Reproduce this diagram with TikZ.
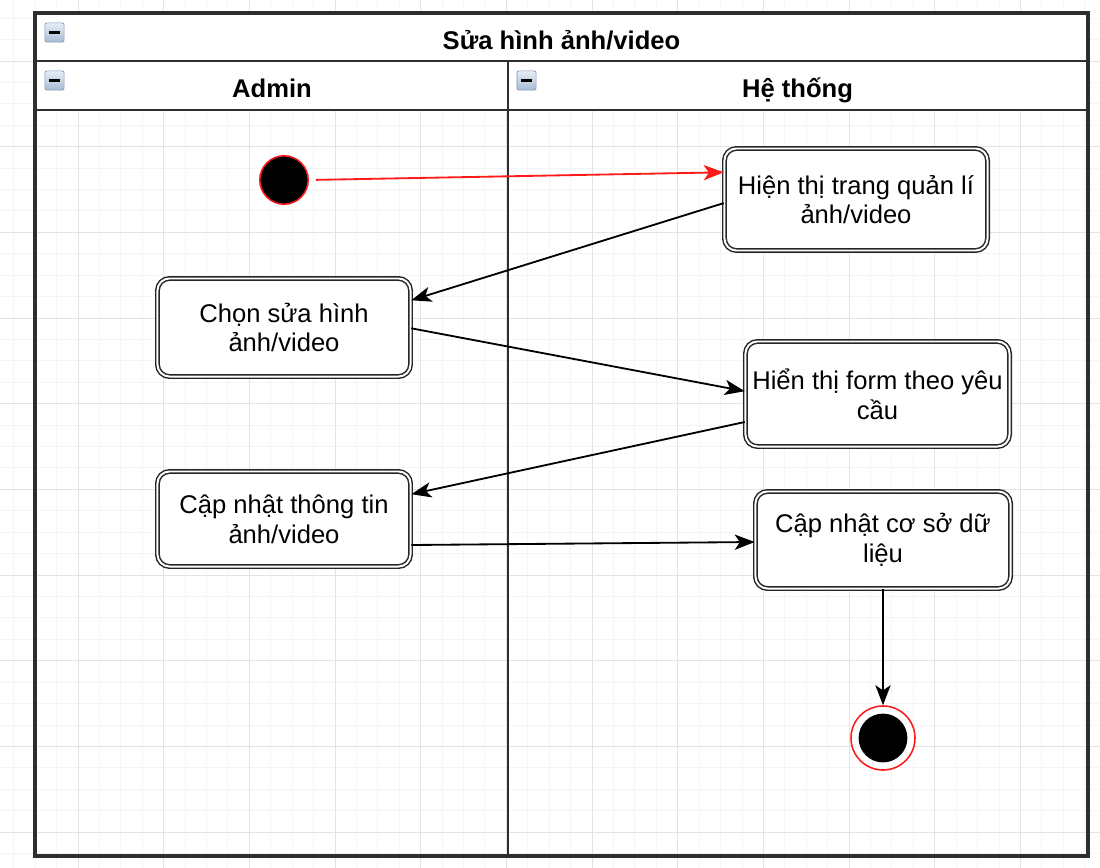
\documentclass[tikz,border=0pt]{standalone}
\usepackage{fontspec}
\setmainfont{Liberation Sans}
\usepackage{xcolor}
\usepackage{tikz}
\usetikzlibrary{arrows.meta}

\definecolor{gridminor}{HTML}{F5F5F5}
\definecolor{gridmajor}{HTML}{E3E3E3}
\definecolor{poolline}{HTML}{2E2E2E}
\definecolor{flowred}{HTML}{FF1A1A}
\definecolor{tgltop}{HTML}{E6EDF6}
\definecolor{tglbot}{HTML}{A7BAD3}
\definecolor{tglline}{HTML}{7F97B6}

\newcommand{\actfont}{\fontsize{18.2}{21.2}\selectfont}
\newcommand{\headfont}{\fontsize{18.2}{20.6}\selectfont\bfseries}

\tikzset{
  act/.style={draw=black!85, double=white, double distance=1.4pt, line width=1.05pt,
    fill=white, rounded corners=0.3cm, align=center, inner sep=0pt, font=\actfont},
  band/.style={draw=poolline, line width=1.5pt, fill=white, font=\headfont, inner sep=0pt,
    text height=16.5pt, text depth=0pt},
  lane/.style={draw=poolline, line width=1.5pt, inner sep=0pt},
  tgl/.style={draw=tglline, line width=0.5pt, top color=tgltop, bottom color=tglbot,
    rounded corners=1.5pt, minimum size=0.48cm, inner sep=0pt,
    path picture={\draw[black, line width=1.6pt]
      ([xshift=-0.13cm]path picture bounding box.center) --
      ([xshift=0.13cm]path picture bounding box.center);}},
  flow/.style={->, >={Stealth[length=0.5cm, width=0.38cm, inset=0.13cm]}, line width=1.3pt}
}

\begin{document}
\begin{tikzpicture}[x=0.025cm, y=-0.025cm]
    \useasboundingbox (0,0) rectangle (1100,868);
    \fill[white] (0,0) rectangle (1100,868);

    % background grid
    \foreach \k in {-3,...,47}
      \draw[gridminor, line width=0.7pt] ({78+21.42*\k},0) -- ({78+21.42*\k},868);
    \foreach \k in {-2,...,37}
      \draw[gridminor, line width=0.7pt] (0,{61+21.42*\k}) -- (1100,{61+21.42*\k});
    \foreach \k in {0,...,11}
      \draw[gridmajor, line width=0.7pt] ({78+85.67*\k},0) -- ({78+85.67*\k},868);
    \foreach \k in {0,...,9}
      \draw[gridmajor, line width=0.7pt] (0,{61+85.67*\k}) -- (1100,{61+85.67*\k});

    % swimlanes
    \node[lane, minimum width=11.8cm, minimum height=18.625cm] (adminlane) at (272,482.5) {};
    \node[lane, minimum width=14.475cm, minimum height=18.625cm] (syslane) at (797.5,482.5) {};
    \node[band, minimum width=26.275cm, minimum height=1.175cm] (title) at (561.5,37.5) {Sửa hình ảnh/video};
    \node[band, minimum width=11.8cm, minimum height=1.225cm] (admin) at (272,85.5) {Admin};
    \node[band, minimum width=14.475cm, minimum height=1.225cm] (sys) at (797.5,85.5) {Hệ thống};
    \draw[poolline, line width=2.2pt] (title.north west) rectangle (adminlane.south -| syslane.east);

    \node[tgl] (tgltitle) at (54.5,32.5) {};
    \node[tgl] (tgladmin) at (54.5,80.5) {};
    \node[tgl] (tglsys) at (526.5,80.5) {};

    % activities
    \node[circle, draw=flowred, line width=1.1pt, fill=black, minimum size=1.21cm, inner sep=0pt] (start) at (284,180) {};
    \node[act, minimum width=6.575cm, minimum height=2.55cm] (hienthi) at (856,199.5) {Hiện thị trang quản lí\\ảnh/video};
    \node[act, minimum width=6.325cm, minimum height=2.45cm] (chon) at (284,327.5) {Chọn sửa hình\\ảnh/video};
    \node[act, minimum width=6.6cm, minimum height=2.625cm] (form) at (877.5,394) {Hiển thị form theo yêu\\cầu};
    \node[act, minimum width=6.325cm, minimum height=2.375cm] (capnhat) at (284,519) {Cập nhật thông tin\\ảnh/video};
    \node[act, minimum width=6.375cm, minimum height=2.425cm] (csdl) at (883,540) {Cập nhật cơ sở dữ\\liệu};
    \node[circle, draw=flowred, line width=1.1pt, fill=white, minimum size=1.6cm, inner sep=0pt] (stop) at (883,738) {};
    \node[circle, fill=black, minimum size=1.22cm, inner sep=0pt] (stopdot) at (stop) {};

    \draw[flow, flowred, shorten <=0.17cm] (start.east) -- ([yshift=0.68cm]hienthi.west);
    \draw[flow] ([yshift=-0.09cm]hienthi.west) -- ([yshift=0.68cm]chon.east);
    \draw[flow] ([yshift=-0.02cm]chon.east) -- ([yshift=0.07cm]form.west);
    \draw[flow] ([yshift=-0.7cm]form.west) -- ([yshift=0.62cm]capnhat.east);
    \draw[flow] ([yshift=-0.65cm]capnhat.east) -- ([yshift=-0.05cm]csdl.west);
    \draw[flow] (csdl.south) -- (stop.north);
  \end{tikzpicture}
\end{document}
